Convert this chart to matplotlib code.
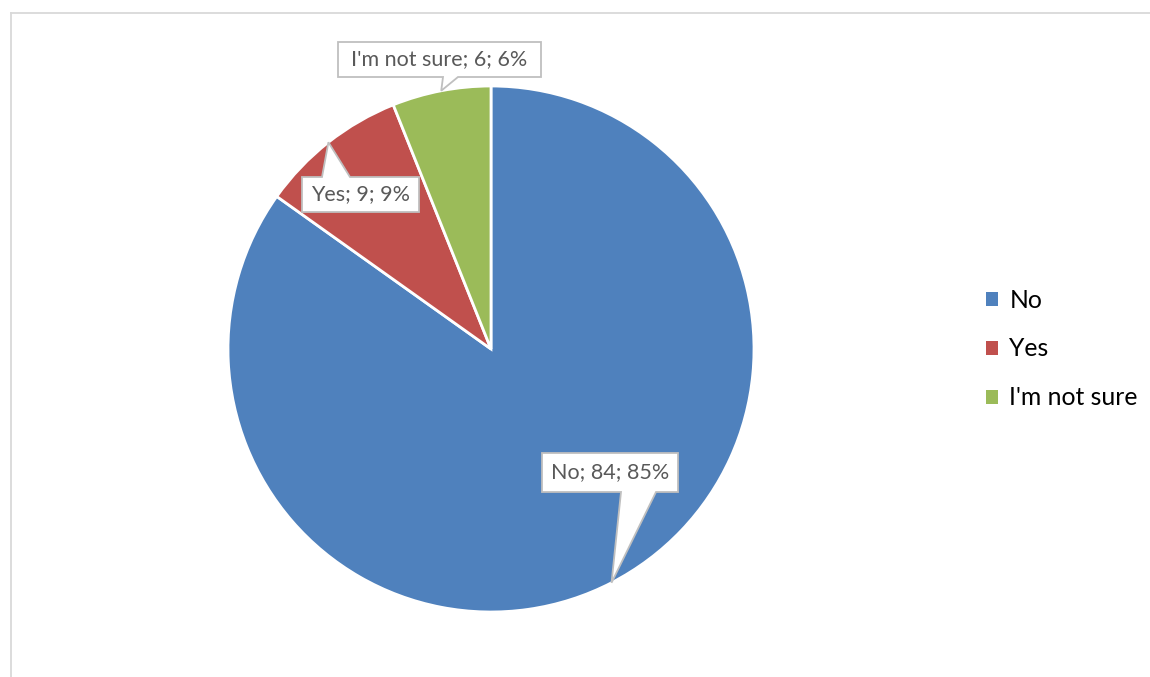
import matplotlib.pyplot as plt
from matplotlib.patches import Polygon, Patch
from matplotlib.lines import Line2D
import numpy as np

plt.rcParams['font.family'] = ['Lato', 'DejaVu Sans']

# survey answers
labels = ['No', 'Yes', "I'm not sure"]
counts = [84, 9, 6]
colors = ['#4F81BD', '#C0504D', '#9BBB59']

# callout boxes: (x0, y0, x1, y1), pointer edge, pointer base range
boxes = [(542, 185, 678, 224), (302, 465, 419, 500), (338, 600, 541, 635)]
pointer_edge = ['bottom', 'top', 'bottom']
pointer_base = [(621, 656), (322, 350), (443, 458)]

W, H = 1150, 677
center = (491, 328)
radius = 263

fig = plt.figure(figsize=(W / 100, H / 100), dpi=100)
ax = fig.add_axes([0, 0, 1, 1])

wedges, _ = ax.pie(counts, colors=colors, startangle=90, counterclock=False,
                   center=center, radius=radius, frame=True,
                   wedgeprops=dict(edgecolor='white', linewidth=2.0))
ax.set_xlim(0, W)
ax.set_ylim(0, H)
ax.set_aspect('equal')
ax.axis('off')

# chart area border (top and left only visible)
ax.add_line(Line2D([11, 11], [0, 664], color='#D9D9D9', lw=1.3))
ax.add_line(Line2D([11, W], [664, 664], color='#D9D9D9', lw=1.3))

total = sum(counts)


def callout(box, edge, base, tip, text):
    x0, y0, x1, y1 = box
    b0, b1 = base
    if edge == 'bottom':
        pts = [(x0, y0), (b0, y0), tip, (b1, y0), (x1, y0), (x1, y1), (x0, y1)]
    else:
        pts = [(x0, y0), (x1, y0), (x1, y1), (b1, y1), tip, (b0, y1), (x0, y1)]
    ax.add_patch(Polygon(pts, closed=True, facecolor='white', edgecolor='#BFBFBF',
                         lw=1.3, zorder=5, joinstyle='miter'))
    ax.text((x0 + x1) / 2, (y0 + y1) / 2, text, ha='center', va='center',
            fontsize=15.5, color='#595959', zorder=6)


for w, lab, n, box, edge, base in zip(wedges, labels, counts, boxes,
                                      pointer_edge, pointer_base):
    mid = np.deg2rad((w.theta1 + w.theta2) / 2)
    tip = (center[0] + radius * np.cos(mid), center[1] + radius * np.sin(mid))
    pct = round(100 * n / total)
    callout(box, edge, base, tip, f'{lab}; {n}; {pct}%')

handles = [Patch(facecolor=c, edgecolor='none') for c in colors]
fig.legend(handles, labels, loc='center left', bbox_to_anchor=(986 / W, (H - 349) / H),
           frameon=False, fontsize=17.8, handlelength=0.5, handleheight=0.5,
           handletextpad=0.45, labelspacing=1.05, borderpad=0, borderaxespad=0)

fig.savefig('out.png', dpi=100)
